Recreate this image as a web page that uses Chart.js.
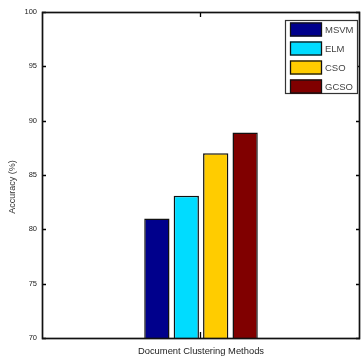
<!DOCTYPE html>
<html>
<head>
<meta charset="utf-8">
<script src="https://cdn.jsdelivr.net/npm/chart.js@4/dist/chart.umd.min.js"></script>
<style>
  html, body { margin: 0; padding: 0; background: #fff; }
  canvas { display: block; }
</style>
</head>
<body>
<canvas id="chart" width="363" height="360"></canvas>
<script>
// Accuracy of each document clustering method
const categories = [''];
const methods = ['MSVM', 'ELM', 'CSO', 'GCSO'];
const accuracy = [81, 83.1, 87, 88.9];
const barColors = ['#00008c', '#00dcff', '#ffcc00', '#800000'];
const yTicks = [70, 75, 80, 85, 90, 95, 100];
const xTitle = 'Document Clustering Methods';
const yTitle = 'Accuracy (%)';

const FONT = '"Liberation Sans", Arial, sans-serif';

// MATLAB-style box: frame round the plot area and inward tick marks
const boxAxes = {
  id: 'boxAxes',
  beforeDatasetsDraw(chart) {
    const { ctx, chartArea: a, scales } = chart;
    const y = scales.y, x = scales.x;
    ctx.save();
    ctx.strokeStyle = '#000';
    ctx.lineWidth = 1.3;
    ctx.beginPath();
    y.ticks.forEach(t => {
      const py = Math.round(y.getPixelForValue(t.value)) + 0.5;
      ctx.moveTo(a.left, py); ctx.lineTo(a.left + 4, py);
      ctx.moveTo(a.right, py); ctx.lineTo(a.right - 4, py);
    });
    categories.forEach((c, i) => {
      const px = Math.round(x.getPixelForValue(i)) - 0.5;
      ctx.moveTo(px, a.top); ctx.lineTo(px, a.top + 5);
      ctx.moveTo(px, a.bottom); ctx.lineTo(px, a.bottom - 6);
    });
    ctx.stroke();
    ctx.restore();
  },
  afterDatasetsDraw(chart) {
    const { ctx, chartArea: a } = chart;
    ctx.save();
    ctx.strokeStyle = '#111';
    ctx.lineWidth = 1.7;
    ctx.strokeRect(Math.round(a.left) + 0.5, Math.round(a.top) + 0.5,
                   Math.round(a.right - a.left) - 1, Math.round(a.bottom - a.top));
    ctx.restore();
  },
  // vertical axis label, set a little below the middle of the axis
  afterDraw(chart) {
    const { ctx, chartArea: a } = chart;
    ctx.save();
    ctx.translate(13, a.top + (a.bottom - a.top) * 0.537);
    ctx.rotate(-Math.PI / 2);
    ctx.font = '9px ' + FONT;
    ctx.fillStyle = '#333';
    ctx.textAlign = 'center';
    ctx.textBaseline = 'middle';
    ctx.fillText(yTitle, 0, 0);
    ctx.restore();
  }
};

// Boxed legend in the top-right corner of the plot
const boxLegend = {
  id: 'boxLegend',
  afterDraw(chart) {
    const { ctx, chartArea: a } = chart;
    const w = 72, rowH = 19, h = 73;
    const x0 = a.right - 3 - w, y0 = a.top + 8;
    ctx.save();
    ctx.fillStyle = '#fff';
    ctx.fillRect(x0, y0, w, h);
    ctx.strokeStyle = '#333';
    ctx.lineWidth = 1.2;
    ctx.strokeRect(x0 + 0.5, y0 + 0.5, w, h);
    ctx.font = '9.5px ' + FONT;
    ctx.textBaseline = 'middle';
    ctx.textAlign = 'left';
    chart.data.datasets.forEach((ds, i) => {
      const sy = y0 + 2.5 + i * rowH;
      ctx.fillStyle = ds.backgroundColor;
      ctx.fillRect(x0 + 5, sy, 32, 14);
      ctx.strokeStyle = '#111';
      ctx.lineWidth = 1.3;
      ctx.strokeRect(x0 + 5.5, sy + 0.5, 31, 13);
      ctx.fillStyle = '#444';
      ctx.fillText(ds.label, x0 + 40, sy + 7.5);
    });
    ctx.restore();
  }
};

new Chart(document.getElementById('chart'), {
  type: 'bar',
  data: {
    labels: categories,
    datasets: methods.map((m, i) => ({
      label: m,
      data: [accuracy[i]],
      backgroundColor: barColors[i],
      borderColor: '#111',
      borderWidth: 1.5,
      barPercentage: 0.86,
      categoryPercentage: 0.37
    }))
  },
  options: {
    responsive: false,
    animation: false,
    devicePixelRatio: 1,
    layout: { padding: { top: 12, right: 3, left: 0, bottom: 0 } },
    plugins: { legend: { display: false }, tooltip: { enabled: false } },
    scales: {
      x: {
        grid: { display: false },
        border: { display: false },
        ticks: { display: false },
        title: {
          display: true, text: xTitle, color: '#222',
          font: { family: FONT, size: 9.4 },
          padding: { top: 0, bottom: 2.5 }
        },
        afterFit(s) { s.height = 22; }
      },
      y: {
        min: 70, max: 100,
        afterBuildTicks(s) { s.ticks = yTicks.map(v => ({ value: v })); },
        grid: { display: false, drawTicks: false },
        border: { display: false },
        ticks: { color: '#222', padding: 5, font: { family: FONT, size: 7.5 } },
        title: { display: false },
        afterFit(s) { s.width = 42; }
      }
    }
  },
  plugins: [boxAxes, boxLegend]
});
</script>
</body>
</html>
